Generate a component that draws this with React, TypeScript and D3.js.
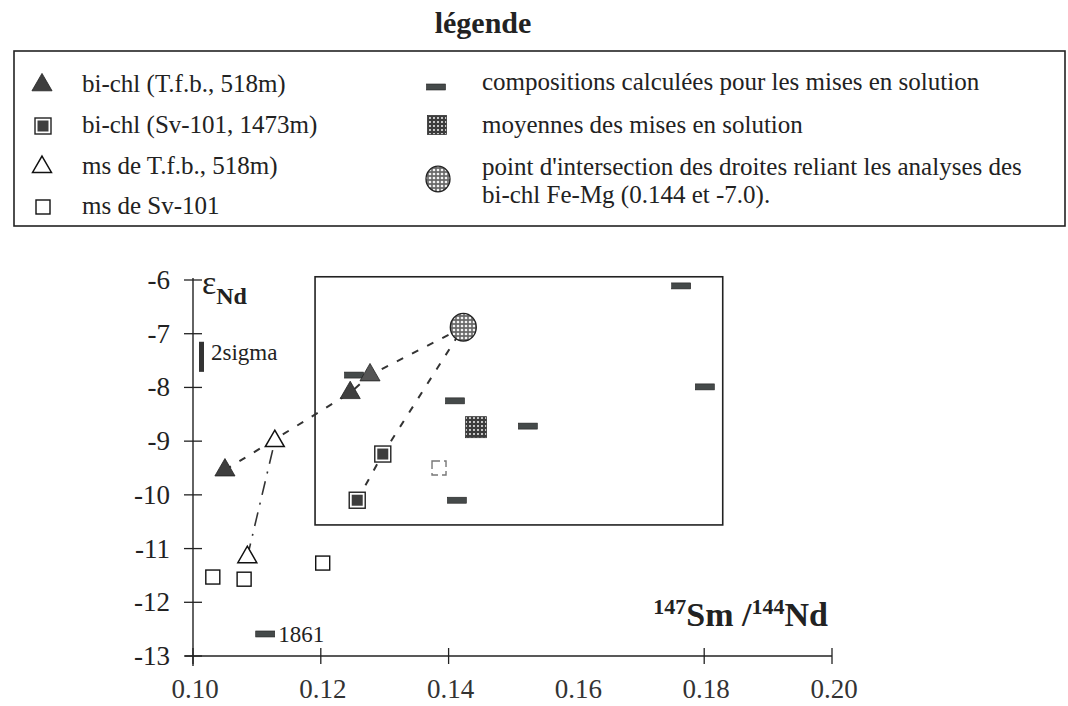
import React from 'react';
import * as d3 from 'd3';

// ---------- data ----------
const xTicks = [0.10, 0.12, 0.14, 0.16, 0.18, 0.20];
const xTickMarks = [0.10, 0.12, 0.14, 0.18, 0.20];
const yTicks = [-6, -7, -8, -9, -10, -11, -12, -13];

// bi-chl (T.f.b., 518m) – filled triangles
const biChlTfb = [
  { x: 0.105, y: -9.54 },
  { x: 0.1246, y: -8.10 },
  { x: 0.1277, y: -7.77 },
];
// bi-chl (Sv-101, 1473m) – filled squares
const biChlSv = [
  { x: 0.1257, y: -10.10 },
  { x: 0.1297, y: -9.24 },
];
// ms de T.f.b., 518m – open triangles
const msTfb = [
  { x: 0.1085, y: -11.16 },
  { x: 0.1128, y: -9.0 },
];
// ms de Sv-101 – open squares
const msSv = [
  { x: 0.1031, y: -11.53, faint: false },
  { x: 0.1080, y: -11.57, faint: false },
  { x: 0.1203, y: -11.27, faint: false },
  { x: 0.1385, y: -9.50, faint: true },
];
// compositions calculées pour les mises en solution – bars
const calc = [
  { x: 0.1764, y: -6.11, label: '' },
  { x: 0.1801, y: -7.99, label: '' },
  { x: 0.1410, y: -8.25, label: '' },
  { x: 0.1524, y: -8.72, label: '' },
  { x: 0.1413, y: -10.10, label: '' },
  { x: 0.1252, y: -7.77, label: '' },
  { x: 0.1113, y: -12.59, label: '1861' },
];
// moyennes des mises en solution
const means = [{ x: 0.1443, y: -8.74 }];
// point d'intersection
const intersection = [{ x: 0.1423, y: -6.88 }];

// lines
const lineBiChlTfb = [biChlTfb[0], biChlTfb[1], biChlTfb[2], intersection[0]];
const lineBiChlSv = [biChlSv[0], biChlSv[1], intersection[0]];
const lineMsTfb = [msTfb[0], msTfb[1]];

// inset frame (data units)
const insetX = [0.1191, 0.1829];
const insetY = [-5.94, -10.56];
// 2 sigma error bar (data units)
const sigmaY = [-7.15, -7.71];

const legendLeft = [
  'bi-chl (T.f.b., 518m)',
  'bi-chl (Sv-101, 1473m)',
  'ms de T.f.b., 518m)',
  'ms de Sv-101',
];
const legendRight = [
  'compositions calculées pour les mises en solution',
  'moyennes des mises en solution',
  "point d'intersection des droites reliant les analyses des",
  'bi-chl Fe-Mg (0.144 et -7.0).',
];

// ---------- layout ----------
const W = 1068;
const H = 706;
const FONT = '"Liberation Serif", "Times New Roman", Times, serif';
const DARK = '#3e3e3e';

const x = d3.scaleLinear().domain([0.10, 0.20]).range([193, 832]);
const y = d3.scaleLinear().domain([-6, -13]).range([280, 656]);

const triPath = (size: number) => d3.symbol().type(d3.symbolTriangle).size(size)() as string;
const line = d3
  .line<{ x: number; y: number }>()
  .x((d) => x(d.x))
  .y((d) => y(d.y));

const FilledTri = ({ cx, cy, fill = DARK }: { cx: number; cy: number; fill?: string }) => (
  <path d={triPath(175)} transform={`translate(${cx},${cy})`} fill={fill} stroke="#222" strokeWidth={0.8} />
);
const OpenTri = ({ cx, cy }: { cx: number; cy: number }) => (
  <path d={triPath(155)} transform={`translate(${cx},${cy})`} fill="#fff" stroke="#111" strokeWidth={1.5} />
);
const FilledSq = ({ cx, cy }: { cx: number; cy: number }) => (
  <g>
    <rect x={cx - 8} y={cy - 8} width={16} height={16} fill="#fff" stroke="#222" strokeWidth={1.4} />
    <rect x={cx - 5.5} y={cy - 5.5} width={11} height={11} fill={DARK} />
  </g>
);
const OpenSq = ({ cx, cy, faint }: { cx: number; cy: number; faint?: boolean }) => (
  <rect
    x={cx - 7}
    y={cy - 7}
    width={14}
    height={14}
    fill="#fff"
    stroke={faint ? '#777' : '#111'}
    strokeWidth={1.4}
    strokeDasharray={faint ? '8,4' : undefined}
  />
);
const Bar = ({ cx, cy }: { cx: number; cy: number }) => (
  <rect x={cx - 9.5} y={cy - 3} width={19} height={6} fill="#454a4a" stroke="#222" strokeWidth={0.6} />
);
const MeanSq = ({ cx, cy, s = 21 }: { cx: number; cy: number; s?: number }) => (
  <rect x={cx - s / 2} y={cy - s / 2} width={s} height={s} fill="url(#stipDark)" stroke="#333" strokeWidth={0.8} />
);
const InterCircle = ({ cx, cy, r = 13 }: { cx: number; cy: number; r?: number }) => (
  <ellipse cx={cx} cy={cy} rx={r} ry={r + 0.8} fill="url(#stipLight)" stroke="#222" strokeWidth={1.3} />
);

export default function App() {
  const legLeftRows = [92, 133, 174, 214];
  const legRightRows = [90, 133, 175, 203];
  const axisX = x(0.10);
  const axisY = y(-13);

  return (
    <svg
      width={W}
      height={H}
      viewBox={`0 0 ${W} ${H}`}
      style={{ position: 'absolute', left: 0, top: 0, background: '#fff' }}
      fontFamily={FONT}
    >
      <defs>
        <pattern id="stipDark" width="4" height="4" patternUnits="userSpaceOnUse">
          <rect width="4" height="4" fill="#3c3c3c" />
          <circle cx="2" cy="2" r="1.05" fill="#e8e8e8" />
        </pattern>
        <pattern id="stipLight" width="4" height="4" patternUnits="userSpaceOnUse">
          <rect width="4" height="4" fill="#6a6a6a" />
          <circle cx="2" cy="2" r="1.35" fill="#f2f2f2" />
        </pattern>
      </defs>

      {/* ---------- legend ---------- */}
      <text x={483} y={33} fontSize={30} fontWeight="bold" textAnchor="middle" fill="#222">
        légende
      </text>
      <rect x={14} y={51} width={1051} height={175} fill="none" stroke="#222" strokeWidth={1.6} />
      {legendLeft.map((t, i) => (
        <text key={t} x={82} y={legLeftRows[i]} fontSize={25} fill="#222">
          {t}
        </text>
      ))}
      <FilledTri cx={42} cy={legLeftRows[0] - 7} />
      <FilledSq cx={43} cy={legLeftRows[1] - 7} />
      <OpenTri cx={42} cy={legLeftRows[2] - 7} />
      <OpenSq cx={43} cy={legLeftRows[3] - 7} />

      {legendRight.map((t, i) => (
        <text key={t} x={482} y={legRightRows[i]} fontSize={25} fill="#222">
          {t}
        </text>
      ))}
      <Bar cx={436} cy={legRightRows[0] - 3} />
      <MeanSq cx={437} cy={legRightRows[1] - 8} s={19} />
      <InterCircle cx={438} cy={legRightRows[2] + 4} r={12} />

      {/* ---------- axes ---------- */}
      <line x1={axisX} x2={axisX} y1={y(-6) - 2} y2={axisY + 10} stroke="#222" strokeWidth={1.4} />
      <line x1={axisX - 8} x2={x(0.20)} y1={axisY} y2={axisY} stroke="#222" strokeWidth={1.4} />
      {yTicks.map((t) => (
        <g key={t}>
          <line x1={axisX - 9} x2={axisX + 9} y1={y(t)} y2={y(t)} stroke="#222" strokeWidth={1.3} />
          <text x={170} y={y(t) + 9} fontSize={27} textAnchor="end" fill="#222">
            {String(t)}
          </text>
        </g>
      ))}
      {xTickMarks.map((t) => (
        <line key={t} x1={x(t)} x2={x(t)} y1={axisY - 8} y2={axisY + 8} stroke="#222" strokeWidth={1.3} />
      ))}
      {xTicks.map((t) => (
        <text key={t} x={x(t) + 2} y={axisY + 42} fontSize={27} textAnchor="middle" fill="#333">
          {d3.format('.2f')(t)}
        </text>
      ))}

      {/* y label */}
      <text x={202} y={294} fill="#222">
        <tspan fontSize={34}>ε</tspan>
        <tspan fontSize={24} fontWeight="bold" dy={10}>
          Nd
        </tspan>
      </text>
      {/* x label */}
      <text x={828} y={626} textAnchor="end" fill="#222" fontWeight="bold">
        <tspan fontSize={22} dy={-12}>147</tspan>
        <tspan fontSize={34} dy={12}>Sm /</tspan>
        <tspan fontSize={22} dy={-12}>144</tspan>
        <tspan fontSize={34} dy={12}>Nd</tspan>
      </text>

      {/* 2 sigma */}
      <rect x={axisX + 6} y={y(sigmaY[0])} width={5} height={y(sigmaY[1]) - y(sigmaY[0])} fill="#333" />
      <text x={axisX + 18} y={y(sigmaY[0]) + 18} fontSize={23} fill="#222">
        2sigma
      </text>

      {/* inset frame */}
      <rect
        x={x(insetX[0])}
        y={y(insetY[0])}
        width={x(insetX[1]) - x(insetX[0])}
        height={y(insetY[1]) - y(insetY[0])}
        fill="none"
        stroke="#222"
        strokeWidth={1.6}
      />

      {/* lines */}
      <path d={line(lineBiChlTfb) as string} fill="none" stroke="#333" strokeWidth={2} strokeDasharray="7,10" />
      <path d={line(lineBiChlSv) as string} fill="none" stroke="#333" strokeWidth={2} strokeDasharray="7,10" />
      <path d={line(lineMsTfb) as string} fill="none" stroke="#333" strokeWidth={1.6} strokeDasharray="14,8,2,8" />

      {/* marks */}
      {calc.map((d, i) => (
        <g key={i}>
          <Bar cx={x(d.x)} cy={y(d.y)} />
          {d.label && (
            <text x={x(d.x) + 13} y={y(d.y) + 8} fontSize={23} fill="#222">
              {d.label}
            </text>
          )}
        </g>
      ))}
      {msSv.map((d, i) => (
        <OpenSq key={i} cx={x(d.x)} cy={y(d.y)} faint={d.faint} />
      ))}
      {msTfb.map((d, i) => (
        <OpenTri key={i} cx={x(d.x)} cy={y(d.y)} />
      ))}
      {biChlSv.map((d, i) => (
        <FilledSq key={i} cx={x(d.x)} cy={y(d.y)} />
      ))}
      {biChlTfb.map((d, i) => (
        <FilledTri key={i} cx={x(d.x)} cy={y(d.y)} fill={i === 2 ? '#555' : DARK} />
      ))}
      {means.map((d, i) => (
        <MeanSq key={i} cx={x(d.x)} cy={y(d.y)} />
      ))}
      {intersection.map((d, i) => (
        <InterCircle key={i} cx={x(d.x)} cy={y(d.y)} />
      ))}
    </svg>
  );
}
